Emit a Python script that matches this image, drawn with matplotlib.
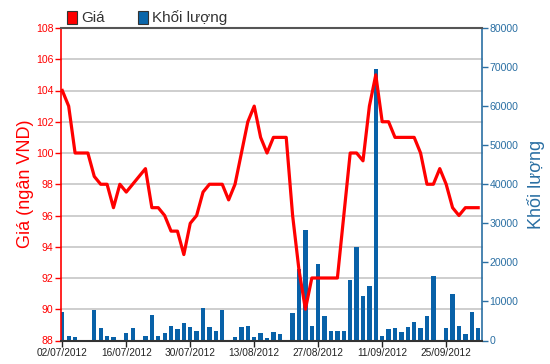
import matplotlib
matplotlib.use("Agg")
import matplotlib.pyplot as plt
import pandas as pd
from matplotlib.patches import Rectangle

plt.rcParams['font.family'] = ['Liberation Sans', 'DejaVu Sans']

# ---- data ----
trading_days = [d for d in pd.bdate_range("2012-07-02", "2012-10-02")
                if d != pd.Timestamp("2012-09-03")]
date_labels = [d.strftime("%d/%m/%Y") for d in trading_days]

price = [104, 103, 100, 100, 100, 98.5, 98, 98, 96.5, 98,
         97.5, 98, 98.5, 99, 96.5, 96.5, 96, 95, 95, 93.5,
         95.5, 96, 97.5, 98, 98, 98, 97, 98, 100, 102,
         103, 101, 100, 101, 101, 101, 96, 92.5, 90, 92,
         92, 92, 92, 92, 96, 100, 100, 99.5, 103, 105,
         102, 102, 101, 101, 101, 101, 100, 98, 98, 99,
         98, 96.5, 96, 96.5, 96.5, 96.5]

volume = [7300, 1200, 850, 200, 0, 7700, 3150, 1200, 850, 0,
          1900, 3150, 200, 1200, 6650, 1200, 1900, 3750, 2900, 4450,
          3400, 2550, 8400, 3400, 2550, 7850, 200, 850, 3400, 3750,
          850, 1900, 600, 2150, 1550, 200, 7000, 18400, 28400, 3750,
          19500, 6300, 2550, 2550, 2550, 15400, 23900, 11300, 14000, 69400,
          1200, 2900, 3150, 2300, 3500, 4800, 3150, 6300, 16600, 0,
          3150, 11900, 3800, 1550, 7300, 3150]

price_ticks = list(range(88, 109, 2))
volume_ticks = list(range(0, 80001, 10000))
label_every = 10

RED = "#ff0000"
BLUE = "#0861a8"
AXBLUE = "#2a6fa3"

fig = plt.figure(figsize=(5.5, 3.64), dpi=100)
ax = fig.add_axes([61/550, 1-340.5/364, (482-61)/550, (340.5-28)/364])
ax2 = ax.twinx()
ax2.set_zorder(0)
ax.set_zorder(1)
ax.patch.set_visible(False)

x = list(range(len(price)))

# grid lines behind bars (in price coordinates)
for p in price_ticks[1:]:
    ax2.plot([0, 1], [p, p], transform=ax.get_yaxis_transform(),
             color="#cacaca", lw=1.3, zorder=0, clip_on=False)

ax2.bar(x, volume, width=0.67, color=BLUE, zorder=2)
ax.plot(x, price, color=RED, lw=2.3, solid_joinstyle='round', zorder=3)

ax.set_xlim(-0.2, len(price) - 0.4)
ax.set_ylim(price_ticks[0], price_ticks[-1])
ax2.set_ylim(volume_ticks[0], volume_ticks[-1])

ax.set_yticks(price_ticks)
ax.set_yticklabels([str(t) for t in price_ticks])
ax2.set_yticks(volume_ticks)
ax2.set_yticklabels([str(t) for t in volume_ticks])

tick_idx = list(range(0, len(date_labels), label_every))
ax.set_xticks(tick_idx)
ax.set_xticklabels([date_labels[i] for i in tick_idx])

ax.tick_params(axis='x', colors='#222222', labelsize=7.3, length=4, width=1, pad=1.5)
ax.tick_params(axis='y', colors=RED, labelcolor=RED, labelsize=7.6, length=4, width=1, pad=1.5)
ax2.tick_params(axis='y', colors=AXBLUE, labelcolor=AXBLUE, labelsize=7.6, length=4, width=1, pad=1.5)
ax2.tick_params(axis='x', bottom=False, labelbottom=False)

for s in ax.spines.values():
    s.set_visible(False)
for s in ax2.spines.values():
    s.set_visible(False)
ax.spines['left'].set_visible(True)
ax.spines['left'].set_color(RED)
ax.spines['left'].set_linewidth(1.2)
ax.spines['bottom'].set_visible(True)
ax.spines['bottom'].set_color('#333333')
ax.spines['bottom'].set_linewidth(1.5)
ax.spines['top'].set_visible(True)
ax.spines['top'].set_color('#555555')
ax.spines['top'].set_linewidth(1.5)
ax2.spines['right'].set_visible(True)
ax2.spines['right'].set_color(AXBLUE)
ax2.spines['right'].set_linewidth(1.2)

ax.set_ylabel("Giá (ngân VND)", color=RED, fontsize=13, labelpad=1)
ax2.set_ylabel("Khối lượng", color=AXBLUE, fontsize=13, labelpad=6)

# legend
def fig_rect(x0, y0, x1, y1, color):
    fig.add_artist(Rectangle((x0/550, 1 - y1/364), (x1-x0)/550, (y1-y0)/364,
                             transform=fig.transFigure, facecolor=color,
                             edgecolor='#333333', lw=0.8))

fig_rect(67, 11, 77, 24, RED)
fig.text(81/550, 1 - 18/364, "Giá", fontsize=11, color='#333333', va='center', ha='left')
fig_rect(138, 11, 148, 24, "#0a66aa")
fig.text(152/550, 1 - 18/364, "Khối lượng", fontsize=11, color='#333333', va='center', ha='left')

fig.savefig("out.png", dpi=100)
